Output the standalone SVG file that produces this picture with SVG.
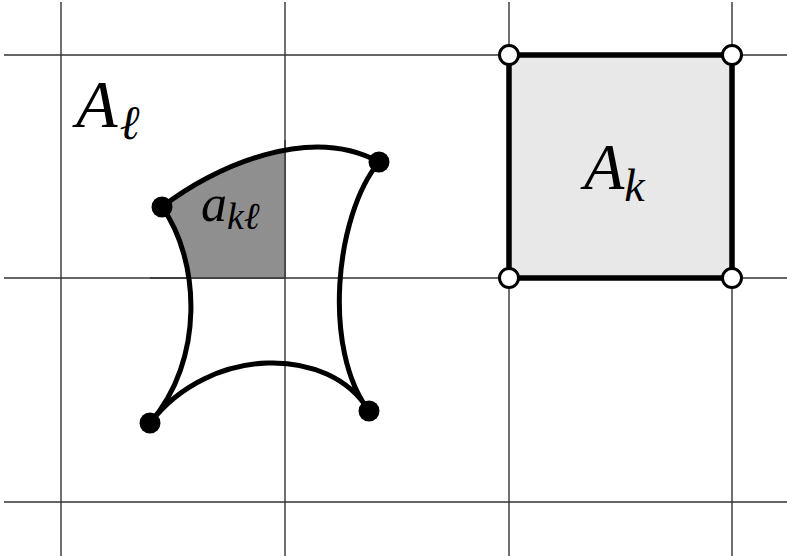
<svg xmlns="http://www.w3.org/2000/svg" width="787" height="556" viewBox="0 0 787 556">
<style>
.grid{stroke:#333;stroke-width:1.4;fill:none}
.edge{stroke:#000;stroke-width:5;fill:none;stroke-linecap:round}
.dot{fill:#000}
.odot{fill:#fff;stroke:#000;stroke-width:3}
.lbl{font-family:"Liberation Serif","DejaVu Serif",serif;font-style:italic;fill:#000}
</style>
<defs>
<clipPath id="cell"><rect x="0" y="0" width="285" height="278"/></clipPath>
<path id="shape" d="M162,207 C215,166 310,124 379,162 C335,215 322,350 369,411 C330,345 210,345 150,423 C205,360 200,260 162,207 Z"/>
</defs>
<rect width="787" height="556" fill="#fff"/>
<g id="grid">
<line class="grid" x1="61" y1="2" x2="61" y2="556"/>
<line class="grid" x1="285" y1="2" x2="285" y2="556"/>
<line class="grid" x1="509" y1="2" x2="509" y2="556"/>
<line class="grid" x1="732" y1="2" x2="732" y2="556"/>
<line class="grid" x1="4" y1="55" x2="787" y2="55"/>
<line class="grid" x1="4" y1="278" x2="787" y2="278"/>
<line class="grid" x1="4" y1="502" x2="787" y2="502"/>
</g>
<g id="akl-region">
<use href="#shape" fill="#8f8f8f" clip-path="url(#cell)"/>
<line class="grid" x1="285" y1="140" x2="285" y2="278"/>
<line class="grid" x1="150" y1="278" x2="285" y2="278"/>
</g>
<g id="square-Ak">
<rect x="509" y="55" width="223" height="223" fill="#e8e8e8" stroke="#000" stroke-width="5.5"/>
<circle class="odot" cx="509" cy="55" r="9.5"/>
<circle class="odot" cx="732" cy="55" r="9.5"/>
<circle class="odot" cx="509" cy="278" r="9.5"/>
<circle class="odot" cx="732" cy="278" r="9.5"/>
<text class="lbl" x="584" y="189" font-size="66">A<tspan font-size="46" dy="12">k</tspan></text>
</g>
<g id="curved-cell">
<use href="#shape" class="edge"/>
<circle class="dot" cx="162" cy="207" r="10.5"/>
<circle class="dot" cx="379" cy="162" r="10.5"/>
<circle class="dot" cx="369" cy="411" r="10.5"/>
<circle class="dot" cx="150" cy="423" r="10.5"/>
<text class="lbl" x="201" y="221" font-size="52">a<tspan font-size="38" dy="8">kℓ</tspan></text>
</g>
<g id="label-Al">
<text class="lbl" x="76" y="127" font-size="68">A<tspan font-size="48" dy="12" dx="2">ℓ</tspan></text>
</g>
</svg>
